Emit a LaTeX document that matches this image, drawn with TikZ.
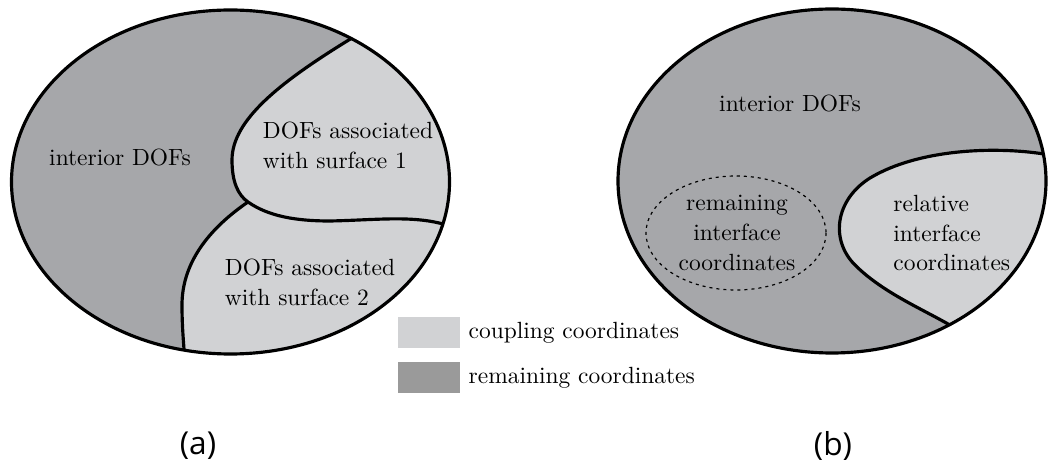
\documentclass[tikz,border=0pt]{standalone}
\usepackage{fontspec}
\usepackage{tikz}
\usetikzlibrary{positioning}
\newfontfamily\capfont{Open Sans}
\definecolor{remgray}{HTML}{A6A7AA}
\definecolor{cplgray}{HTML}{D1D2D4}
\definecolor{leggray}{HTML}{9A9A9A}

\begin{document}
\begin{tikzpicture}[x=0.015cm, y=-0.015cm,
    outline/.style = {draw=black, line width=1.35pt},
    divider/.style = {draw=black, line width=1.35pt},
    lbl/.style = {font=\fontsize{10}{12.8}\selectfont, inner sep=0pt},
    legbox/.style = {rectangle, minimum width=0.93cm, minimum height=0.465cm,
                     inner sep=0pt},
    legtext/.style = {lbl, inner sep=3.3pt, anchor=west},
    caption/.style = {font=\capfont\fontsize{13.5}{16}\selectfont}]
  \useasboundingbox (0,0) rectangle (1049,466);

  % (a) left diagram
  \fill[remgray] (230.5,182) ellipse [x radius=219, y radius=172];
  \begin{scope}
    \clip (230.5,182) ellipse [x radius=219, y radius=172];
    \fill[cplgray] (352,0) -- (352,38)
      .. controls (280,82) and (232,120) .. (232,160)
      .. controls (232,182) and (238,195) .. (248,202)
      .. controls (210,228) and (182,262) .. (182,305)
      .. controls (182,330) and (184,345) .. (185,365)
      -- (185,400) -- (470,400) -- (470,0) -- cycle;
    \path[divider] (352,38)
      .. controls (280,82) and (232,120) .. (232,160)
      .. controls (232,182) and (238,195) .. (248,202)
      .. controls (268,216) and (295,221) .. (330,221)
      .. controls (380,220) and (420,214) .. (455,228);
    \path[divider] (248,202)
      .. controls (210,228) and (182,262) .. (182,305)
      .. controls (182,330) and (184,345) .. (185,365);
  \end{scope}
  \draw[outline] (230.5,182) ellipse [x radius=219, y radius=172];

  \node (intA) [lbl] at (120,158) {interior DOFs};
  \node (surf1) [lbl, align=left] at (348,145) {DOFs associated\\with surface 1};
  \node (surf2) [lbl, align=left] at (310,282) {DOFs associated\\with surface 2};

  % (b) right diagram
  \fill[remgray] (832,181) ellipse [x radius=214, y radius=172];
  \begin{scope}
    \clip (832,181) ellipse [x radius=214, y radius=172];
    \fill[cplgray] (1060,157) -- (1050,155)
      .. controls (1000,146) and (920,148) .. (870,178)
      .. controls (835,200) and (830,240) .. (855,265)
      .. controls (885,295) and (930,312) .. (958,330)
      -- (1070,340) -- (1070,157) -- cycle;
    \path[divider] (1060,157) -- (1050,155)
      .. controls (1000,146) and (920,148) .. (870,178)
      .. controls (835,200) and (830,240) .. (855,265)
      .. controls (885,295) and (930,312) .. (958,330);
  \end{scope}
  \draw[outline] (832,181) ellipse [x radius=214, y radius=172];
  \draw[dash pattern=on 1.3pt off 1.7pt, line width=0.5pt] (736,233) ellipse [x radius=90, y radius=57];

  \node (intB) [lbl] at (790,104) {interior DOFs};
  \node (remif) [lbl, align=center] at (737,233) {remaining\\interface\\coordinates};
  \node (relif) [lbl, align=left, anchor=west] at (893,233) {relative\\interface\\coordinates};

  % legend
  \node (boxcpl) [legbox, fill=cplgray] at (429,332.5) {};
  \node (boxrem) [legbox, fill=leggray, below=0.195cm of boxcpl] {};
  \node (txtcpl) [legtext, right=0pt of boxcpl] {coupling coordinates};
  \node (txtrem) [legtext, right=0pt of boxrem] {remaining coordinates};

  % captions
  \node (capa) [caption] at (198,446) {(a)};
  \node (capb) [caption] at (833,446) {(b)};
\end{tikzpicture}
\end{document}
